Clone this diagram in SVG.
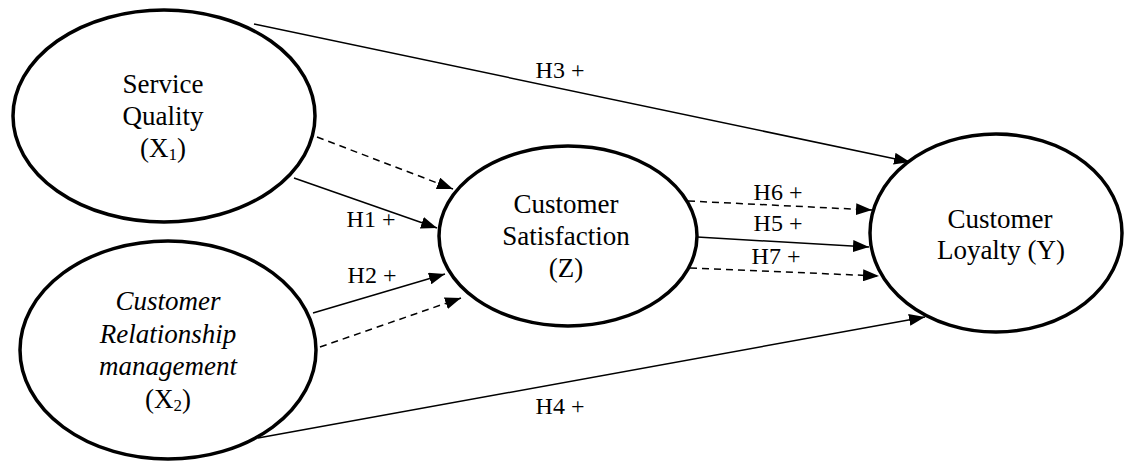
<svg xmlns="http://www.w3.org/2000/svg" width="1126" height="463" viewBox="0 0 1126 463" font-family="Liberation Serif, Tinos, Times New Roman, DejaVu Serif, serif">
<style>
.node ellipse{fill:#fff;stroke:#000;stroke-width:3.5}
.t{font-family:'Liberation Serif','Tinos','Times New Roman','DejaVu Serif',serif;font-size:27px;fill:#000;text-anchor:middle}
.i{font-style:italic}
.lbl{font-family:'Liberation Serif','Tinos','Times New Roman','DejaVu Serif',serif;font-size:24px;fill:#000;text-anchor:middle}
.c{stroke:#000;stroke-width:1.5;fill:none}
.d{stroke-dasharray:7 5}
.sub{font-size:17px}
</style>
<defs>
<marker id="ah" markerWidth="16" markerHeight="12" refX="16" refY="6" orient="auto" markerUnits="userSpaceOnUse">
<path d="M0,0 L16,6 L0,12 z" fill="#000" stroke="none"/>
</marker>
</defs>
<rect width="1126" height="463" fill="#fff"/>
<g id="connectors">
<line class="c" x1="254" y1="24" x2="910" y2="162" marker-end="url(#ah)"/>
<line class="c" x1="258" y1="438" x2="925" y2="317" marker-end="url(#ah)"/>
<line class="c" x1="294" y1="178" x2="437" y2="228" marker-end="url(#ah)"/>
<line class="c d" x1="317" y1="137" x2="453" y2="189" marker-end="url(#ah)"/>
<line class="c" x1="313" y1="313" x2="445" y2="274" marker-end="url(#ah)"/>
<line class="c d" x1="320" y1="347" x2="461" y2="298" marker-end="url(#ah)"/>
<line class="c d" x1="688" y1="201" x2="872" y2="210" marker-end="url(#ah)"/>
<line class="c" x1="697" y1="237" x2="869" y2="247" marker-end="url(#ah)"/>
<line class="c d" x1="690" y1="268" x2="879" y2="276" marker-end="url(#ah)"/>
<text class="lbl" x="560" y="78">H3 +</text>
<text class="lbl" x="371" y="227">H1 +</text>
<text class="lbl" x="372" y="283">H2 +</text>
<text class="lbl" x="778" y="200">H6 +</text>
<text class="lbl" x="778" y="231">H5 +</text>
<text class="lbl" x="776" y="264">H7 +</text>
<text class="lbl" x="560" y="414">H4 +</text>
</g>
<g id="service-quality" class="node">
<ellipse cx="164" cy="116" rx="151" ry="106"/>
<text class="t" x="163" y="93">Service</text>
<text class="t" x="163" y="125">Quality</text>
<text class="t" x="163" y="157">(X<tspan class="sub" dy="3">1</tspan><tspan dy="-3">)</tspan></text>
</g>
<g id="crm" class="node">
<ellipse cx="168" cy="350" rx="148" ry="109"/>
<text class="t i" x="168" y="310">Customer</text>
<text class="t i" x="168" y="343">Relationship</text>
<text class="t i" x="168" y="375">management</text>
<text class="t" x="168" y="408">(X<tspan class="sub" dy="3">2</tspan><tspan dy="-3">)</tspan></text>
</g>
<g id="customer-satisfaction" class="node">
<ellipse cx="568" cy="236" rx="129" ry="90"/>
<text class="t" x="566" y="213">Customer</text>
<text class="t" x="566" y="245">Satisfaction</text>
<text class="t" x="566" y="277">(Z)</text>
</g>
<g id="customer-loyalty" class="node">
<ellipse cx="996" cy="233" rx="126" ry="99"/>
<text class="t" x="1000" y="228">Customer</text>
<text class="t" x="1001" y="259">Loyalty (Y)</text>
</g>
</svg>
